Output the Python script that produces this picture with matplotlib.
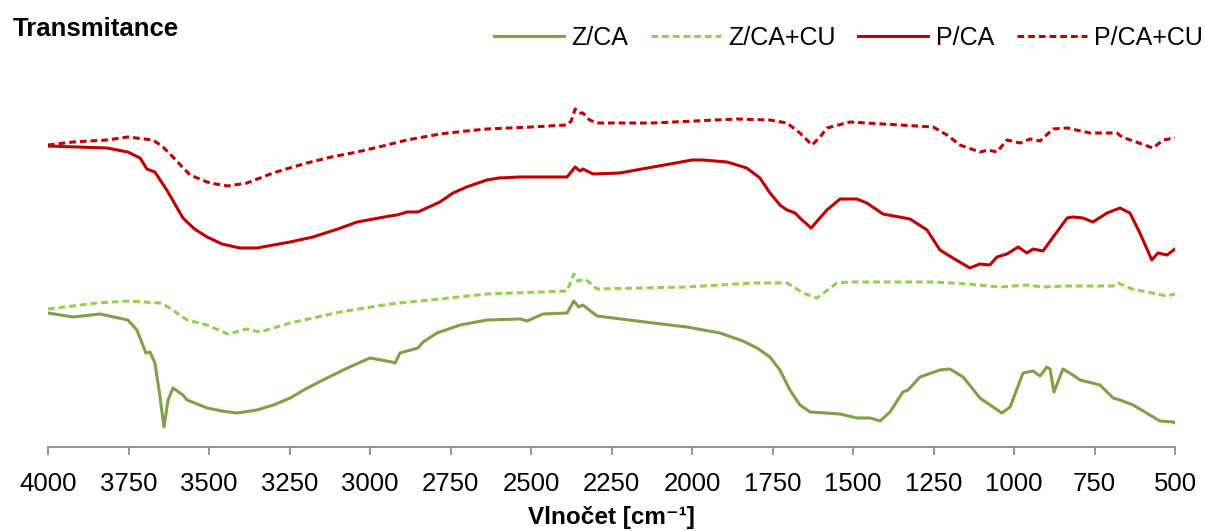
import numpy as np
import matplotlib
matplotlib.use("Agg")
import matplotlib.pyplot as plt

plt.rcParams['font.family'] = ['Liberation Sans', 'DejaVu Sans']

# --- datos (transmitancia relativa, u.a.) ---
wn_pcu = [4000, 3922, 3817, 3752, 3674, 3643, 3612, 3559, 3506, 3480, 3441, 3382, 3350, 3301,
          3250, 3196, 3120, 3040, 2960, 2885, 2783, 2700, 2637, 2500, 2388, 2375, 2363, 2348,
          2339, 2318, 2295, 2121, 1861, 1758, 1705, 1665, 1627, 1600, 1581, 1509, 1407, 1251,
          1208, 1168, 1106, 1080, 1053, 1022, 981, 950, 919, 879, 835, 764, 680, 665, 568,
          537, 500]
t_pcu = [305, 308, 310, 313, 310, 303, 293, 275, 268, 266, 264, 267, 271, 277,
         282, 287, 293, 298, 304, 310, 316, 319, 321, 323, 325, 329, 341, 337,
         337, 330, 327, 327, 331, 330, 327, 317, 305, 314, 322, 328, 326, 323,
         315, 305, 298, 300, 298, 310, 307, 311, 309, 321, 322, 317, 317, 313, 302,
         310, 312]

wn_p = [4000, 3817, 3752, 3714, 3693, 3668, 3631, 3581, 3545, 3506, 3460, 3404, 3351, 3300,
        3248, 3177, 3100, 3040, 2938, 2916, 2885, 2851, 2783, 2742, 2700, 2637, 2600, 2534,
        2388, 2363, 2348, 2339, 2307, 2224, 2121, 2068, 2000, 1966, 1891, 1830, 1789, 1760,
        1727, 1705, 1680, 1665, 1630, 1581, 1540, 1488, 1457, 1407, 1323, 1270, 1230, 1190,
        1137, 1106, 1075, 1053, 1022, 987, 960, 941, 910, 835, 817, 786, 755, 711, 671, 640,
        609, 572, 553, 525, 500]
t_p = [304, 302, 298, 292, 281, 278, 260, 232, 221, 213, 206, 202, 202, 205,
       208, 213, 221, 228, 234, 235, 238, 238, 248, 257, 263, 270, 272, 273,
       273, 283, 279, 281, 276, 277, 283, 286, 290, 290, 288, 282, 272, 258,
       245, 240, 237, 232, 222, 240, 251, 251, 247, 236, 231, 220, 200, 192,
       182, 186, 185, 193, 196, 203, 197, 201, 199, 232, 233, 232, 228, 237, 242, 237,
       217, 190, 197, 195, 201]

wn_zcu = [4000, 3848, 3752, 3652, 3627, 3568, 3506, 3441, 3382, 3342, 3248, 3093, 2938, 2783,
          2637, 2388, 2367, 2355, 2332, 2295, 2016, 1810, 1705, 1655, 1612, 1550, 1509, 1251,
          1146, 1044, 960, 910, 835, 692, 677, 634, 525, 500]
t_zcu = [141, 147, 149, 147, 143, 130, 125, 116, 121, 118, 127, 138, 146, 151,
         156, 159, 176, 169, 171, 161, 163, 167, 167, 157, 152, 167, 168, 168,
         166, 163, 165, 163, 164, 164, 167, 161, 154, 156]

wn_z = [4000, 3922, 3839, 3752, 3724, 3708, 3696, 3683, 3668, 3652, 3640, 3627, 3612, 3581,
        3568, 3506, 3460, 3413, 3351, 3300, 3248, 3200, 3146, 3070, 3000, 2932, 2922, 2907,
        2851, 2835, 2792, 2720, 2637, 2534, 2512, 2463, 2388, 2367, 2352, 2339, 2295, 2121,
        2016, 1913, 1842, 1798, 1758, 1727, 1696, 1665, 1633, 1540, 1488, 1447, 1416, 1385,
        1345, 1329, 1292, 1230, 1199, 1158, 1106, 1065, 1038, 1012, 972, 941, 919, 898, 888,
        876, 848, 817, 795, 733, 692, 671, 630, 547, 506, 500]
t_z = [137, 133, 136, 130, 120, 107, 97, 98, 87, 53, 23, 50, 62, 55,
       50, 42, 39, 37, 40, 45, 52, 61, 70, 82, 92, 88, 87, 97,
       102, 108, 117, 125, 130, 131, 129, 136, 137, 149, 143, 145, 134, 127,
       123, 117, 109, 102, 93, 80, 60, 45, 38, 36, 32, 32, 29, 38,
       58, 60, 73, 80, 81, 73, 52, 43, 37, 43, 77, 79, 74, 83, 81,
       58, 81, 75, 70, 65, 52, 50, 45, 29, 28, 27]

labels = ["Z/CA", "Z/CA+CU", "P/CA", "P/CA+CU"]
ticks = np.arange(4000, 499, -250)

fig = plt.figure(figsize=(12.05, 5.31), dpi=100)
ax = fig.add_axes([48/1205, 84/531, 1127/1205, 352/531])

lw = 2.2
ax.plot(wn_z, t_z, color="#80A048", lw=lw, label=labels[0])
ax.plot(wn_zcu, t_zcu, color="#92D050", lw=lw, ls=(0, (2.2, 1.3)), label=labels[1])
ax.plot(wn_p, t_p, color="#C00000", lw=lw, label=labels[2])
ax.plot(wn_pcu, t_pcu, color="#C00000", lw=lw, ls=(0, (2.2, 1.3)), label=labels[3])

ax.set_xlim(4000, 500)
ax.set_ylim(3, 355)
ax.set_xticks(ticks)
ax.set_xticklabels([str(t) for t in ticks])
ax.set_yticks([])
for s in ["top", "right", "left"]:
    ax.spines[s].set_visible(False)
ax.spines["bottom"].set_color("#8C8C8C")
ax.spines["bottom"].set_linewidth(1.3)
ax.tick_params(axis="x", colors="#8C8C8C", length=6, width=1.3, labelsize=18.5,
               labelcolor="black", pad=12)
ax.set_xlabel("Vlnočet [cm⁻¹]", fontsize=17.5, fontweight="bold", labelpad=7)

fig.text(13/1205, 1 - 29/531, "Transmitance", fontsize=18.5, fontweight="bold",
         va="center", ha="left")
fig.legend(loc="center right", bbox_to_anchor=(1203/1205, 1 - 38/531), ncol=4,
           frameon=False, fontsize=18, handlelength=2.8, handletextpad=0.3,
           columnspacing=0.9, borderpad=0, borderaxespad=0)

fig.savefig("out.png", dpi=100)
